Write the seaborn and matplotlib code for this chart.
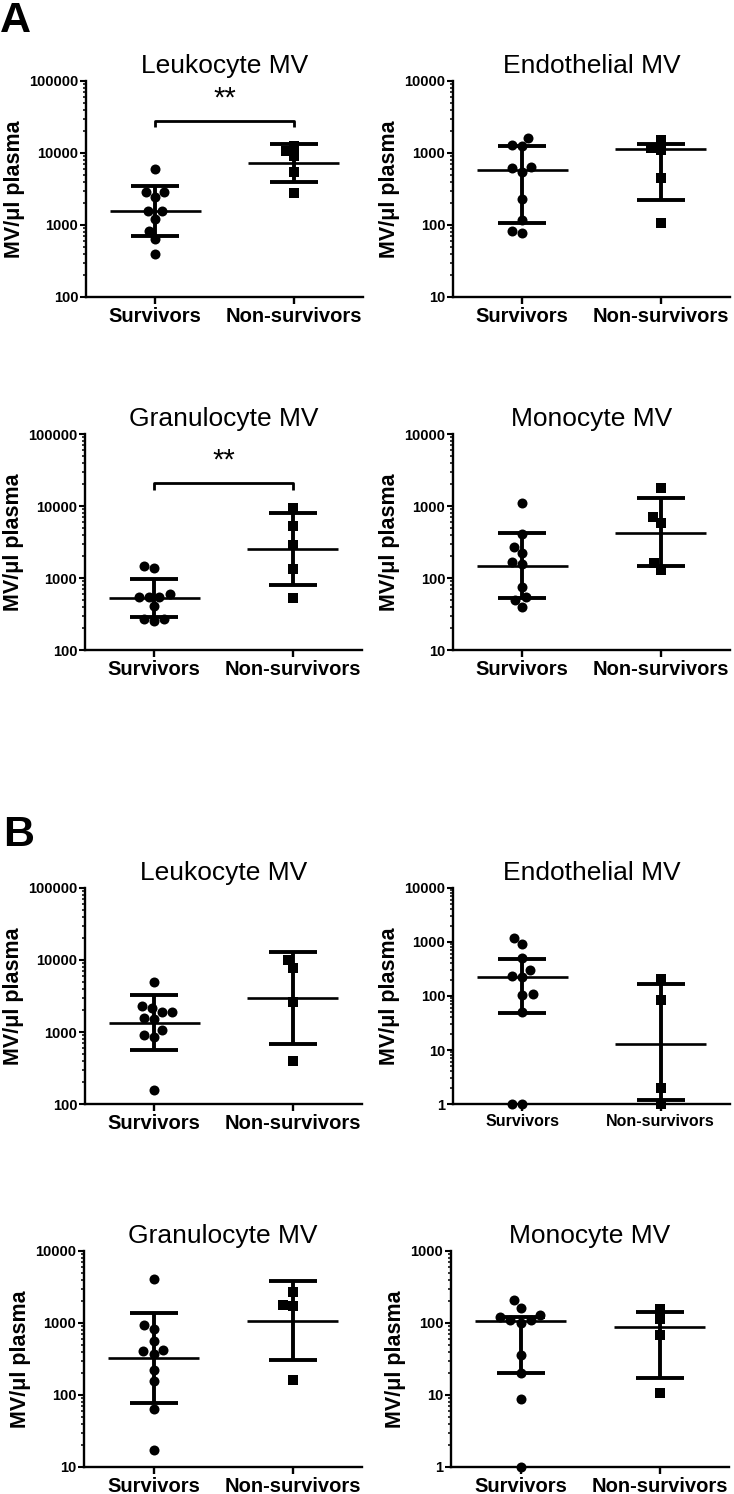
import matplotlib
matplotlib.use("Agg")
import matplotlib.pyplot as plt
import matplotlib.ticker as mticker
import numpy as np
import pandas as pd
import seaborn as sns

groups = ["Survivors", "Non-survivors"]

# ── A ────────────────────────────────────────────────────────────────────────
a_leuk_surv = [5900, 2890, 2890, 2460, 1570, 1570, 1230, 820, 630, 400]
a_leuk_non = [12600, 10600, 9120, 5480, 2800]
a_leuk_mid = [1560, 7160]
a_leuk_lo = [700, 3940]
a_leuk_hi = [3500, 13300]

a_endo_surv = [1640, 1290, 1260, 647, 610, 548, 233, 117, 82, 78]
a_endo_non = [1510, 1156, 1096, 443, 108]
a_endo_mid = [578, 1133]
a_endo_lo = [107, 221]
a_endo_hi = [1260, 1316]

a_gran_surv = [1452, 1377, 593, 545, 545, 545, 413, 272, 272, 250]
a_gran_non = [9380, 5220, 2900, 1333, 527]
a_gran_mid = [527, 2530]
a_gran_lo = [284, 807]
a_gran_hi = [968, 8000]

a_mono_surv = [1112, 405, 271, 219, 165, 156, 74, 54, 50, 40]
a_mono_non = [1754, 705, 589, 160, 130]
a_mono_mid = [148, 428]
a_mono_lo = [52, 145]
a_mono_hi = [428, 1277]

# ── B ────────────────────────────────────────────────────────────────────────
b_leuk_surv = [4900, 2320, 2154, 1897, 1897, 1550, 1517, 1054, 919, 853, 158]
b_leuk_non = [9890, 7740, 2580, 392]
b_leuk_mid = [1333, 2966]
b_leuk_lo = [569, 681]
b_leuk_hi = [3230, 12920]

b_endo_surv = [1208, 908, 506, 303, 234, 228, 110, 104, 50, 1, 1]
b_endo_non = [203, 84, 2, 1]
b_endo_mid = [228, 12.7]
b_endo_lo = [49, 1.19]
b_endo_hi = [484, 164]

b_gran_surv = [4130, 929, 817, 562, 417, 404, 367, 220, 156, 64.6, 17]
b_gran_non = [2700, 1758, 1740, 163]
b_gran_mid = [327, 1067]
b_gran_lo = [77.4, 303]
b_gran_hi = [1377, 3830]

b_mono_surv = [206, 160, 128, 120, 109, 109, 99, 36, 20.4, 8.7, 1]
b_mono_non = [155, 112, 69, 10.8]
b_mono_mid = [105, 88]
b_mono_lo = [20.4, 17.2]
b_mono_hi = [121, 142]

# significance brackets (drop, top) and star level
a_leuk_bracket = [22900, 28100, 36000]
a_gran_bracket = [16600, 20900, 27000]

W, H = 734, 1494
sns.set_style("ticks")
plt.rcParams["font.family"] = ["Liberation Sans", "DejaVu Sans"]
plt.rcParams.update({
    "text.color": "black",
    "axes.labelcolor": "black",
    "axes.titlecolor": "black",
    "axes.linewidth": 1.7,
    "xtick.major.width": 1.7,
    "ytick.major.width": 1.5,
    "ytick.minor.width": 1.1,
    "xtick.major.size": 5,
    "ytick.major.size": 4.5,
    "ytick.minor.size": 2.3,
    "axes.edgecolor": "black",
    "xtick.color": "black",
    "ytick.color": "black",
    "xtick.labelcolor": "black",
    "ytick.labelcolor": "black",
})

fig = plt.figure(figsize=(W / 100, H / 100), dpi=100)


def px_axes(left, top, right, bottom):
    return fig.add_axes([left / W, 1 - bottom / H, (right - left) / W, (bottom - top) / H])


panels = [
    ("Leukocyte MV", a_leuk_surv, a_leuk_non, a_leuk_mid, a_leuk_lo, a_leuk_hi,
     (100, 100000), (86, 81, 363, 297), a_leuk_bracket, 14.5),
    ("Endothelial MV", a_endo_surv, a_endo_non, a_endo_mid, a_endo_lo, a_endo_hi,
     (10, 10000), (453, 81, 730, 297), None, 14.5),
    ("Granulocyte MV", a_gran_surv, a_gran_non, a_gran_mid, a_gran_lo, a_gran_hi,
     (100, 100000), (85, 434, 362, 650), a_gran_bracket, 14.5),
    ("Monocyte MV", a_mono_surv, a_mono_non, a_mono_mid, a_mono_lo, a_mono_hi,
     (10, 10000), (453, 434, 730, 650), None, 14.5),
    ("Leukocyte MV", b_leuk_surv, b_leuk_non, b_leuk_mid, b_leuk_lo, b_leuk_hi,
     (100, 100000), (85, 888, 362, 1104), None, 14.5),
    ("Endothelial MV", b_endo_surv, b_endo_non, b_endo_mid, b_endo_lo, b_endo_hi,
     (1, 10000), (453, 888, 730, 1104), None, 11.5),
    ("Granulocyte MV", b_gran_surv, b_gran_non, b_gran_mid, b_gran_lo, b_gran_hi,
     (10, 10000), (84, 1251, 362, 1467), None, 14.5),
    ("Monocyte MV", b_mono_surv, b_mono_non, b_mono_mid, b_mono_lo, b_mono_hi,
     (1, 1000), (451, 1251, 729, 1467), None, 14.5),
]

for title, surv, non, mid, lo, hi, ylim, box, bracket, xfs in panels:
    ax = px_axes(*box)
    df_s = pd.DataFrame({"group": "Survivors", "value": surv})
    df_n = pd.DataFrame({"group": "Non-survivors", "value": non})
    sns.swarmplot(data=df_s, x="group", y="value", order=groups, ax=ax,
                  color="black", marker="o", size=7.2, log_scale=True, zorder=3)
    sns.swarmplot(data=df_n, x="group", y="value", order=groups, ax=ax,
                  color="black", marker="s", size=6.5, log_scale=True, zorder=3)
    for coll in ax.collections:
        coll.set_clip_on(False)

    mid = np.array(mid, dtype=float)
    lo = np.array(lo, dtype=float)
    hi = np.array(hi, dtype=float)
    xs = np.arange(2)
    ax.errorbar(xs, mid, yerr=[mid - lo, hi - mid], fmt="none", ecolor="black",
                elinewidth=2.8, capsize=17.5, capthick=2.8, zorder=2, clip_on=False)
    ax.hlines(mid, xs - 0.33, xs + 0.33, color="black", lw=1.9, zorder=2)

    if bracket is not None:
        d, t, s = bracket
        ax.plot([0, 0, 1, 1], [d, t, t, d], color="black", lw=2.0,
                solid_capstyle="butt", clip_on=False)
        ax.text(0.5, s, "**", ha="center", va="bottom", fontsize=21, color="black")

    ax.set_xlim(-0.5, 1.5)
    ax.set_ylim(*ylim)
    ax.yaxis.set_major_locator(mticker.LogLocator(base=10))
    ax.yaxis.set_minor_locator(mticker.LogLocator(base=10, subs=np.arange(2, 10)))
    ax.yaxis.set_minor_formatter(mticker.NullFormatter())
    ax.yaxis.set_major_formatter(mticker.FuncFormatter(lambda v, p: f"{int(round(v))}"))
    ax.tick_params(axis="y", labelsize=10.5, pad=1, colors="black")
    for lab in ax.get_yticklabels():
        lab.set_fontweight("bold")
    ax.set_xticks(xs)
    ax.set_xticklabels(groups, fontsize=xfs, fontweight="bold", color="black")
    ax.tick_params(axis="x", pad=2, colors="black")
    ax.set_xlabel("")
    ax.set_ylabel("MV/\u03bcl plasma", fontsize=15.5, fontweight="bold", labelpad=3,
                  color="black")
    ax.set_title(title, fontsize=19, pad=6, color="black")
    sns.despine(ax=ax)

fig.text(0 / W, 1 - 1 / H, "A", fontsize=31, fontweight="bold", va="top", ha="left",
         color="black")
fig.text(3 / W, 1 - 815 / H, "B", fontsize=31, fontweight="bold", va="top", ha="left",
         color="black")

fig.savefig("out.png", dpi=100)
